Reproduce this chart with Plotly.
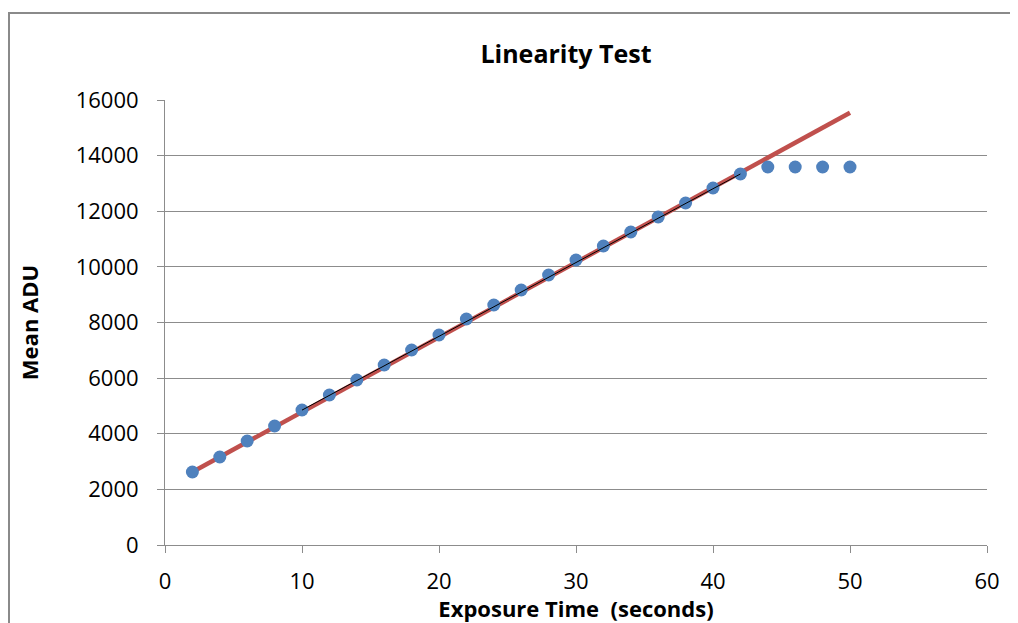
import plotly.graph_objects as go

exposure_s = [2, 4, 6, 8, 10, 12, 14, 16, 18, 20, 22, 24, 26, 28, 30, 32, 34, 36, 38, 40, 42, 44, 46, 48, 50]
mean_adu = [2625, 3164, 3739, 4279, 4854, 5393, 5933, 6472, 7011, 7551, 8126, 8629, 9169, 9708,
            10247, 10751, 11254, 11793, 12297, 12836, 13339, 13591, 13591, 13591, 13591]

fit_all_x = [2, 50]
fit_all_y = [2628, 15540]
fit_lin_x = [10, 42]
fit_lin_y = [4850, 13340]

x_ticks = [0, 10, 20, 30, 40, 50, 60]
y_ticks = [0, 2000, 4000, 6000, 8000, 10000, 12000, 14000, 16000]
y_tick_text = [str(v) for v in y_ticks]

FONT = "Open Sans"
GRAY = "#8c8c8c"

W, H = 1010, 615
L, R, T, B = 157, 31, 92, 78
PW, PH = W - L - R, H - T - B

fig = go.Figure()
fig.add_trace(go.Scatter(x=fit_all_x, y=fit_all_y, mode="lines",
                         line=dict(color="#C0504D", width=4.5), showlegend=False))
fig.add_trace(go.Scatter(x=exposure_s, y=mean_adu, mode="markers",
                         marker=dict(color="#4F81BD", size=13), showlegend=False))
fig.add_trace(go.Scatter(x=fit_lin_x, y=fit_lin_y, mode="lines",
                         line=dict(color="#000000", width=1), showlegend=False))

fig.update_layout(
    width=W, height=H,
    margin=dict(l=L, r=R, t=T, b=B, autoexpand=False),
    paper_bgcolor="white", plot_bgcolor="white",
    font=dict(family=FONT, size=22, color="#000000"),
    title=dict(text="<b>Linearity Test</b>", x=558 / W, xanchor="center", y=1 - 46 / H, yanchor="middle",
               font=dict(family=FONT, size=25, color="#000000")),
    xaxis=dict(range=[0, 60], tickvals=x_ticks, showgrid=False, zeroline=False, automargin=False,
               showline=True, linecolor=GRAY, linewidth=1,
               ticks="outside", ticklen=7, tickcolor=GRAY, ticklabelstandoff=10,
               title=dict(text="<b>Exposure Time  (seconds)</b>", standoff=2,
                          font=dict(family=FONT, size=22))),
    yaxis=dict(range=[0, 16000], tickvals=y_ticks, ticktext=y_tick_text, showgrid=True,
               gridcolor=GRAY, gridwidth=1, automargin=False,
               zeroline=False, showline=True, linecolor=GRAY, linewidth=1,
               ticks="outside", ticklen=7, tickcolor=GRAY, ticklabelstandoff=14,
               title=dict(text="<b>Mean ADU</b>", standoff=30,
                          font=dict(family=FONT, size=22))),
    shapes=[dict(type="rect", xref="paper", yref="paper",
                 x0=(1 - L) / PW, x1=1.2, y0=-0.4, y1=(PH + T - 5) / PH,
                 line=dict(color="#8a8a8a", width=2), fillcolor="rgba(0,0,0,0)", layer="below")],
)

fig.write_html("out.html")
